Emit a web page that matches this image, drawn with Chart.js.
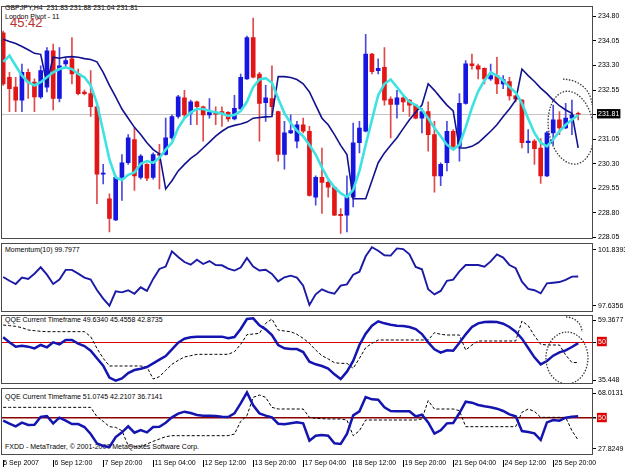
<!DOCTYPE html>
<html>
<head>
<meta charset="utf-8">
<title>GBPJPY,H4</title>
<script src="https://cdn.jsdelivr.net/npm/chart.js@4.4.1/dist/chart.umd.min.js"></script>
<style>
  html, body { margin: 0; background: #fff; }
  #wrap { position: relative; width: 625px; height: 469px; overflow: hidden; font-family: "Liberation Sans", Arial, sans-serif; }
  .pane { position: absolute; left: 0; width: 625px; }
  .txt { position: absolute; left: 5px; font-size: 7px; line-height: 8px; color: #000; white-space: pre; }
</style>
</head>
<body>
<div id="wrap">
  <div class="txt" style="top:4px">GBPJPY,H4  231.83 231.88 231.64 231.81</div>
  <div class="txt" style="top:13px">London Pivot - 11</div>
  <div class="txt" style="top:16px;left:10px;font-size:13px;line-height:14px;color:#b83030">45:42</div>
  <div class="txt" style="top:246px">Momentum(10) 99.7977</div>
  <div class="txt" style="top:316px">QQE Current Timeframe 49.6340 45.4558 42.8735</div>
  <div class="txt" style="top:393px">QQE Current Timeframe 51.0745 42.2107 36.7141</div>
  <div class="txt" style="top:443px">FXDD - MetaTrader, © 2001-2007 MetaQuotes Software Corp.</div>
  <div class="pane" style="top:0;height:250px"><canvas id="priceChart"></canvas></div>
  <div class="pane" style="top:236px;height:84px"><canvas id="momChart"></canvas></div>
  <div class="pane" style="top:308px;height:84px"><canvas id="qqe1Chart"></canvas></div>
  <div class="pane" style="top:380px;height:89px"><canvas id="qqe2Chart"></canvas></div>
</div>
<script>
// H4 candles, oldest first
const open = [
  234.30, 232.94, 232.64, 232.24, 233.09, 232.79, 232.34, 232.64, 233.75, 232.29,
  233.35, 233.50, 233.04, 232.49, 232.44, 232.04, 229.98, 229.23, 228.58, 229.88,
  230.33, 231.04, 229.88, 230.28, 229.88, 230.60, 230.58, 231.09, 231.74, 232.31,
  231.84, 232.19, 232.04, 231.79, 231.87, 231.89, 231.87, 231.67, 231.97, 232.89,
  234.15, 233.04, 232.16, 232.29, 231.89, 230.58, 231.24, 230.99, 231.49, 231.29,
  229.28, 229.88, 229.73, 229.58, 228.75, 228.73, 229.28, 230.94, 231.29, 233.65,
  233.14, 233.24, 232.27, 232.11, 232.31, 232.24, 232.09, 231.69, 231.89, 231.19,
  229.93, 230.33, 231.29, 230.83, 232.14, 233.35, 233.29, 233.21, 232.89, 232.99,
  232.74, 232.81, 232.37, 232.24, 230.94, 230.99, 230.78, 229.93, 231.24, 231.64,
  231.39, 231.69, 231.83
];
const high = [
  234.35, 233.09, 232.94, 233.34, 233.19, 232.89, 233.29, 233.85, 233.95, 233.85,
  233.55, 234.15, 233.19, 232.55, 233.14, 232.06, 230.28, 229.38, 229.93, 230.58,
  231.19, 231.39, 230.58, 230.30, 230.63, 230.89, 231.69, 231.79, 232.39, 232.54,
  232.24, 232.21, 232.06, 232.29, 232.04, 232.04, 231.89, 232.39, 233.04, 234.20,
  234.75, 233.09, 232.69, 233.29, 231.91, 231.59, 231.79, 231.59, 231.69, 231.44,
  229.93, 230.78, 229.78, 229.60, 228.93, 229.93, 231.54, 231.59, 234.25, 233.67,
  233.50, 233.85, 232.34, 232.54, 232.34, 232.26, 232.11, 231.99, 232.19, 231.59,
  230.33, 231.59, 231.34, 232.44, 233.45, 233.65, 233.34, 233.23, 233.34, 233.55,
  232.99, 232.94, 232.39, 232.26, 231.34, 231.04, 231.07, 231.29, 232.09, 231.89,
  232.14, 232.24, 231.88
];
const low = [
  232.69, 231.89, 231.89, 231.89, 232.29, 231.89, 232.29, 232.49, 231.94, 232.19,
  233.24, 232.74, 232.40, 232.40, 231.74, 229.08, 229.68, 228.22, 228.56, 229.18,
  230.28, 229.48, 229.83, 229.78, 229.83, 229.53, 230.56, 231.04, 231.69, 231.69,
  231.49, 231.49, 230.99, 231.69, 231.49, 231.44, 231.59, 231.64, 231.94, 232.87,
  232.92, 230.99, 231.59, 231.79, 230.38, 230.13, 231.22, 230.78, 231.24, 229.31,
  229.03, 228.78, 229.28, 228.71, 228.17, 228.22, 228.98, 230.63, 231.27, 233.04,
  233.04, 232.09, 231.09, 231.69, 231.89, 231.74, 231.67, 231.24, 230.68, 229.43,
  229.63, 230.08, 230.78, 230.38, 232.12, 233.19, 232.89, 232.74, 232.84, 232.44,
  232.59, 232.24, 232.19, 230.78, 230.63, 230.28, 229.70, 229.90, 230.88, 231.19,
  231.37, 231.19, 231.64
];
const close = [
  232.74, 232.59, 232.24, 233.09, 232.79, 232.34, 233.14, 233.75, 232.29, 233.29,
  233.45, 233.04, 232.44, 232.44, 232.04, 229.98, 230.00, 228.63, 229.88, 230.33,
  231.09, 229.93, 230.53, 229.86, 230.58, 230.56, 231.09, 231.74, 232.34, 231.79,
  232.19, 232.04, 231.79, 231.87, 231.81, 231.83, 231.67, 231.99, 232.94, 234.15,
  232.94, 232.14, 232.31, 232.04, 230.58, 231.24, 231.31, 231.49, 231.29, 229.33,
  229.88, 229.73, 229.58, 228.73, 228.71, 229.28, 230.94, 231.39, 233.65, 233.11,
  233.21, 232.24, 232.11, 232.31, 232.19, 232.09, 231.69, 231.89, 231.19, 229.93,
  230.28, 231.29, 230.83, 232.14, 233.35, 233.29, 233.19, 232.89, 232.99, 232.74,
  232.87, 232.37, 232.27, 230.94, 230.99, 230.76, 229.93, 231.24, 231.64, 231.39,
  231.69, 231.79, 231.81
];
// cyan moving average
const maLine = [
  233.41, 233.60, 233.29, 232.99, 232.79, 232.69, 232.79, 232.94, 233.09, 233.19,
  233.24, 233.19, 233.04, 232.94, 232.69, 232.14, 231.29, 230.43, 229.88, 229.80,
  229.96, 230.03, 230.30, 230.38, 230.33, 230.48, 230.73, 230.94, 231.39, 231.69,
  231.87, 231.97, 231.97, 231.91, 231.87, 231.83, 231.76, 231.79, 231.91, 232.19,
  232.64, 232.87, 232.91, 232.77, 232.29, 231.84, 231.54, 231.31, 231.14, 230.87,
  230.58, 230.18, 229.83, 229.58, 229.40, 229.28, 229.50, 230.08, 230.88, 231.64,
  232.39, 232.74, 232.87, 232.64, 232.39, 232.19, 232.09, 231.94, 231.69, 231.39,
  231.14, 230.88, 230.73, 230.88, 231.41, 232.01, 232.51, 232.84, 233.09, 232.99,
  232.84, 232.64, 232.47, 232.14, 231.67, 231.24, 230.94, 230.83, 231.04, 231.29,
  231.49, 231.64, 231.79
];
// navy stop line
const stopLine = [
  234.10, 234.03, 233.97, 233.88, 233.78, 233.67, 233.64, 232.74, 233.55, 233.52,
  233.56, 233.57, 233.55, 233.51, 233.48, 233.41, 233.09, 232.69, 232.34, 231.97,
  231.69, 231.41, 231.19, 230.94, 230.73, 230.60, 229.53, 229.78, 230.08, 230.28,
  230.46, 230.60, 230.78, 230.96, 231.14, 231.29, 231.41, 231.47, 231.51, 231.57,
  231.69, 231.71, 231.73, 231.74, 232.96, 232.96, 232.93, 232.87, 232.74, 232.49,
  232.09, 231.69, 231.49, 231.19, 230.86, 230.58, 229.23, 229.23, 229.23, 229.78,
  230.33, 230.63, 230.86, 231.09, 231.37, 231.64, 231.87, 232.09, 232.74, 232.54,
  232.31, 232.09, 231.91, 230.78, 230.78, 230.83, 230.94, 231.11, 231.29, 231.49,
  231.74, 231.97, 232.24, 233.19, 232.99, 232.81, 232.61, 232.44, 232.24, 232.07,
  231.94, 231.84, 230.78
];
const momentum = [
  99.77, 99.54, 99.34, 99.73, 99.65, 99.97, 100.36, 99.91, 99.34, 99.61,
  100.20, 100.20, 99.97, 99.73, 99.61, 98.98, 98.45, 98.02, 98.89, 98.83,
  98.96, 98.75, 99.14, 98.92, 99.65, 100.26, 100.40, 101.33, 100.99, 100.68,
  100.52, 100.82, 100.56, 100.74, 100.50, 100.48, 100.28, 100.16, 100.34, 100.93,
  100.40, 100.16, 100.21, 99.95, 99.50, 99.75, 99.85, 99.73, 99.24, 98.06,
  98.71, 99.02, 98.85, 98.75, 99.24, 99.32, 99.91, 100.09, 101.03, 101.58,
  101.37, 101.09, 101.07, 101.51, 101.47, 101.15, 100.38, 100.24, 99.02, 98.71,
  98.92, 99.54, 99.61, 100.11, 100.50, 100.50, 100.50, 100.40, 100.72, 101.15,
  100.95, 100.50, 100.30, 99.48, 99.04, 98.96, 98.77, 99.38, 99.42, 99.46,
  99.59, 99.79, 99.80
];
const qqe1Rsi = [
  51.63, 49.89, 48.39, 48.74, 48.39, 47.81, 48.97, 48.16, 49.89, 49.20,
  50.70, 50.70, 49.43, 48.62, 47.00, 44.35, 41.80, 37.64, 36.60, 37.41,
  39.26, 40.30, 40.76, 41.34, 42.61, 43.88, 45.15, 47.47, 49.78, 51.16,
  51.63, 51.86, 51.86, 51.86, 51.86, 51.86, 51.28, 51.74, 54.51, 57.98,
  58.21, 55.79, 54.40, 52.43, 48.97, 47.81, 47.58, 47.58, 46.54, 43.19,
  42.27, 41.69, 40.76, 38.80, 37.18, 39.72, 43.42, 48.97, 52.90, 55.67,
  57.17, 56.48, 56.02, 55.67, 55.55, 55.21, 54.51, 52.78, 49.89, 47.47,
  46.31, 47.12, 47.00, 49.78, 52.67, 55.21, 56.48, 56.94, 57.06, 56.94,
  56.36, 55.21, 53.59, 51.16, 47.93, 44.69, 42.27, 43.42, 45.27, 46.43,
  47.12, 48.27, 49.63
];
const qqe1Trail = [
  55.90, 55.67, 55.44, 54.98, 54.17, 53.94, 53.71, 53.59, 53.59, 53.59,
  53.59, 53.59, 53.59, 53.59, 51.86, 47.81, 44.35, 41.69, 41.69, 41.69,
  41.69, 41.69, 41.69, 41.34, 37.18, 37.99, 40.19, 42.27, 43.65, 44.81,
  45.27, 45.73, 45.73, 45.73, 45.73, 45.73, 45.73, 46.66, 49.20, 52.55,
  52.78, 53.01, 56.48, 57.98, 54.17, 53.82, 53.59, 52.67, 51.28, 49.54,
  47.23, 45.27, 44.12, 42.84, 42.61, 42.61, 40.88, 44.35, 48.04, 49.54,
  50.70, 50.70, 50.70, 50.70, 50.70, 50.70, 50.70, 50.70, 50.70, 53.24,
  52.67, 52.43, 52.43, 52.43, 47.23, 48.97, 50.36, 50.36, 50.36, 50.36,
  50.36, 50.36, 50.36, 57.29, 55.67, 52.20, 49.20, 48.97, 48.97, 48.97,
  45.50, 42.90, 42.87
];
const qqe2Rsi = [
  48.41, 46.61, 45.01, 47.21, 45.81, 46.01, 50.61, 51.21, 46.81, 50.21,
  48.41, 46.41, 46.41, 44.61, 40.41, 34.81, 33.21, 32.61, 38.61, 41.41,
  45.01, 41.21, 42.81, 41.41, 44.61, 44.81, 47.21, 50.41, 52.61, 53.81,
  53.01, 51.81, 51.41, 51.41, 51.21, 50.81, 50.61, 52.81, 58.81, 65.41,
  57.61, 52.81, 51.41, 50.41, 46.61, 46.21, 46.81, 47.41, 46.81, 36.41,
  39.41, 39.81, 39.41, 34.81, 34.41, 40.41, 51.61, 54.01, 62.61, 61.21,
  61.01, 56.41, 54.21, 54.01, 54.01, 54.01, 51.01, 52.01, 47.41, 40.61,
  42.61, 46.81, 47.01, 53.01, 59.81, 59.21, 57.81, 57.01, 56.41, 55.61,
  54.21, 52.21, 51.01, 42.21, 41.61, 40.81, 36.81, 47.41, 48.81, 48.41,
  50.21, 50.81, 51.07
];
const qqe2Trail = [
  56.41, 56.41, 56.41, 56.41, 56.41, 56.41, 56.41, 56.41, 56.41, 56.41,
  56.41, 56.41, 56.41, 56.41, 56.41, 50.81, 48.01, 44.81, 44.41, 42.41,
  33.41, 32.81, 32.81, 34.41, 36.01, 37.41, 38.81, 39.41, 39.41, 39.41,
  39.41, 39.41, 39.41, 39.41, 39.41, 39.41, 39.41, 40.41, 48.01, 51.41,
  62.41, 63.81, 62.41, 56.41, 55.41, 55.41, 55.41, 55.41, 55.41, 50.41,
  49.81, 49.61, 49.41, 49.41, 49.41, 48.81, 39.41, 42.41, 48.81, 48.81,
  48.81, 48.81, 48.81, 48.81, 48.81, 48.81, 48.81, 49.41, 60.41, 55.41,
  55.41, 55.41, 55.41, 54.41, 44.81, 44.81, 44.81, 44.81, 44.81, 44.81,
  44.81, 44.81, 44.81, 53.41, 55.41, 54.01, 50.41, 50.41, 50.41, 50.41,
  50.41, 42.41, 36.71
];
const priceTicks = [228.05, 228.80, 229.55, 230.30, 231.05, 232.55, 233.30, 234.05, 234.80];
const lastPrice = 231.81;
const momRange = [97.6356, 101.8393];
const qqe1Range = [35.448, 59.3677];
const qqe2Range = [27.8249, 68.0131];
const timeTicks = [0, 8, 16, 24, 32, 40, 48, 56, 64, 72, 80, 88];
const timeLabels = ['5 Sep 2007', '6 Sep 12:00', '7 Sep 20:00', '11 Sep 04:00', '12 Sep 12:00', '13 Sep 20:00',
  '17 Sep 04:00', '18 Sep 12:00', '19 Sep 20:00', '21 Sep 04:00', '24 Sep 12:00', '25 Sep 20:00'];

const FONT = '"Liberation Sans", Arial, sans-serif';
const RED = '#e21616', BLUE = '#1616e0';
const X_MIN = -0.35, X_MAX = 94.37;

function pts(arr) { return arr.map((v, i) => ({ x: i, y: v })); }

// min/max labels sit a little inside the panel, like the terminal does
function edgeMarks(range, botInset, topInset) {
  const span = range[1] - range[0];
  return [
    { at: range[0] + botInset * span, text: String(range[0]) },
    { at: range[1] - topInset * span, text: String(range[1]) }
  ];
}

function xAxis(show) {
  if (!show) {
    return { type: 'linear', min: X_MIN, max: X_MAX, offset: false, bounds: 'data', display: false };
  }
  return {
    type: 'linear', min: X_MIN, max: X_MAX, offset: false, bounds: 'data',
    afterBuildTicks: s => { s.ticks = timeTicks.map(v => ({ value: v })); },
    afterFit: s => { s.height = 14; },
    ticks: {
      autoSkip: false, maxRotation: 0, minRotation: 0, align: 'start', padding: -8,
      color: '#000', font: { family: FONT, size: 7 },
      // small gap after each tick mark
      callback: (v, i) => (i === 0 ? '' : '\u2009') + timeLabels[i]
    },
    grid: { drawOnChartArea: false, tickLength: 12, tickColor: '#000', tickBorderDash: [0, 5, 20] },
    border: { display: false }
  };
}

function yAxis(min, max, marks) {
  return {
    position: 'right', min, max, bounds: 'data',
    afterFit: s => { s.width = 32; },
    afterBuildTicks: s => { s.ticks = marks.map(m => ({ value: m.at })); },
    ticks: {
      autoSkip: false, padding: 2, font: { family: FONT, size: 7 },
      callback: (v, i) => marks[i].text,
      color: c => (marks[c.index] && marks[c.index].box) ? '#fff' : '#000',
      showLabelBackdrop: c => !!(marks[c.index] && marks[c.index].box),
      backdropColor: c => (marks[c.index] && marks[c.index].box) || 'rgba(0,0,0,0)',
      backdropPadding: { top: 1, bottom: 0, left: 1, right: 1 }
    },
    grid: {
      drawOnChartArea: true, tickLength: 3, tickColor: '#000',
      color: c => (marks[c.index] && marks[c.index].line) || 'rgba(0,0,0,0)',
      lineWidth: c => (marks[c.index] && marks[c.index].lw) || 1
    },
    border: { display: false }
  };
}

function baseOptions(scales, top, bottom, doodles) {
  return {
    responsive: true, maintainAspectRatio: false, animation: false, devicePixelRatio: 1,
    events: [],
    layout: { padding: { left: 1, right: 0, top, bottom } },
    plugins: { legend: { display: false }, tooltip: { enabled: false }, doodle: { items: doodles || [] } },
    scales
  };
}

// panel border
const frame = {
  id: 'frame',
  afterDraw(chart) {
    const { ctx, chartArea: a } = chart;
    ctx.save();
    ctx.strokeStyle = '#4a4a4a';
    ctx.lineWidth = 1;
    ctx.setLineDash([]);
    ctx.strokeRect(Math.round(a.left) + 0.5, Math.round(a.top) + 0.5,
      Math.round(a.right - a.left) - 1, Math.round(a.bottom - a.top) - 1);
    ctx.restore();
  }
};

// hand-drawn dotted circles on the screenshot
const doodle = {
  id: 'doodle',
  afterDatasetsDraw(chart, args, o) {
    const items = o.items || [];
    if (!items.length) return;
    const { ctx, chartArea: a, scales: { x, y } } = chart;
    ctx.save();
    ctx.beginPath();
    ctx.rect(a.left, a.top, a.right - a.left, a.bottom - a.top);
    ctx.clip();
    ctx.strokeStyle = '#3a3a3a';
    ctx.lineWidth = 1.3;
    ctx.setLineDash([1.5, 1.5]);
    items.forEach(e => {
      const cx = x.getPixelForValue(e.x), cy = y.getPixelForValue(e.y);
      const rx = Math.abs(x.getPixelForValue(e.x + e.rx) - cx);
      const ry = Math.abs(y.getPixelForValue(e.y + e.ry) - cy);
      ctx.beginPath();
      ctx.ellipse(cx, cy, rx, ry, e.rot || 0, e.a0 ?? 0, e.a1 ?? Math.PI * 2);
      ctx.stroke();
    });
    ctx.restore();
  }
};

const bull = close.map((c, i) => c >= open[i]);
const priceMarks = priceTicks.map(v => ({ at: v, text: v.toFixed(2) }))
  .concat([{ at: lastPrice, text: lastPrice.toFixed(2), box: '#000', line: '#c4c4c4' }])
  .sort((a, b) => a.at - b.at);

new Chart(document.getElementById('priceChart'), {
  type: 'line',
  data: {
    datasets: [
      { label: 'MA', data: pts(maLine), borderColor: '#3ee2e2', borderWidth: 2.6, pointRadius: 0, order: 0 },
      { label: 'Stop', data: pts(stopLine), borderColor: '#12128e', borderWidth: 1.6, pointRadius: 0, order: 1 },
      {
        type: 'bar', label: 'Body', data: open.map((o, i) => ({ x: i, y: [o, close[i]] })),
        backgroundColor: bull.map(b => b ? BLUE : RED), barThickness: 4, minBarLength: 1,
        grouped: false, borderWidth: 0, order: 2
      },
      {
        type: 'bar', label: 'Wick', data: low.map((l, i) => ({ x: i, y: [l, high[i]] })),
        backgroundColor: bull.map(b => b ? '#4a4ae0' : '#e04a4a'), barThickness: 1,
        grouped: false, borderWidth: 0, order: 3
      }
    ]
  },
  options: baseOptions({ x: xAxis(false), y: yAxis(228.0, 235.11, priceMarks) }, 3, 11, [
    { x: 90.85, y: 231.40, rx: 3.6, ry: 1.12, rot: -0.15 },
    { x: 89.57, y: 232.10, rx: 4.6, ry: 0.78, a0: -Math.PI / 2, a1: 0 }
  ]),
  plugins: [frame, doodle]
});

new Chart(document.getElementById('momChart'), {
  type: 'line',
  data: {
    datasets: [
      { label: 'Momentum(10)', data: pts(momentum), borderColor: '#1a1aa6', borderWidth: 1.9, pointRadius: 0 }
    ]
  },
  options: baseOptions({ x: xAxis(false), y: yAxis(momRange[0], momRange[1], edgeMarks(momRange, 0.087, 0.10)) }, 7, 8),
  plugins: [frame]
});

new Chart(document.getElementById('qqe1Chart'), {
  type: 'line',
  data: {
    datasets: [
      { label: 'QQE', data: pts(qqe1Rsi), borderColor: '#1414b0', borderWidth: 2.5, pointRadius: 0, order: 0 },
      { label: 'Trail', data: pts(qqe1Trail), borderColor: '#000', borderWidth: 1, borderDash: [3, 2], pointRadius: 0, order: 1 }
    ]
  },
  options: baseOptions({
    x: xAxis(false),
    y: yAxis(qqe1Range[0], qqe1Range[1], edgeMarks(qqe1Range, 0.05, 0.08)
      .concat([{ at: 50, text: '50', box: '#e00000', line: '#e00000', lw: 1 }]).sort((a, b) => a.at - b.at))
  }, 7, 8, [
    { x: 90.2, y: 44.46, rx: 3.36, ry: 9.0 },
    { x: 90.05, y: 53.47, rx: 2.56, ry: 5.2, a0: -Math.PI / 2, a1: 0 }
  ]),
  plugins: [frame, doodle]
});

new Chart(document.getElementById('qqe2Chart'), {
  type: 'line',
  data: {
    datasets: [
      { label: 'QQE', data: pts(qqe2Rsi), borderColor: '#1414b0', borderWidth: 2.5, pointRadius: 0, order: 0 },
      { label: 'Trail', data: pts(qqe2Trail), borderColor: '#000', borderWidth: 1, borderDash: [3, 2], pointRadius: 0, order: 1 }
    ]
  },
  options: baseOptions({
    x: xAxis(true),
    y: yAxis(qqe2Range[0], qqe2Range[1], edgeMarks(qqe2Range, 0.09, 0.075)
      .concat([{ at: 50, text: '50', box: '#e00000', line: '#8b0000', lw: 1.5 }]).sort((a, b) => a.at - b.at))
  }, 8, 0),
  plugins: [frame]
});
</script>
</body>
</html>
